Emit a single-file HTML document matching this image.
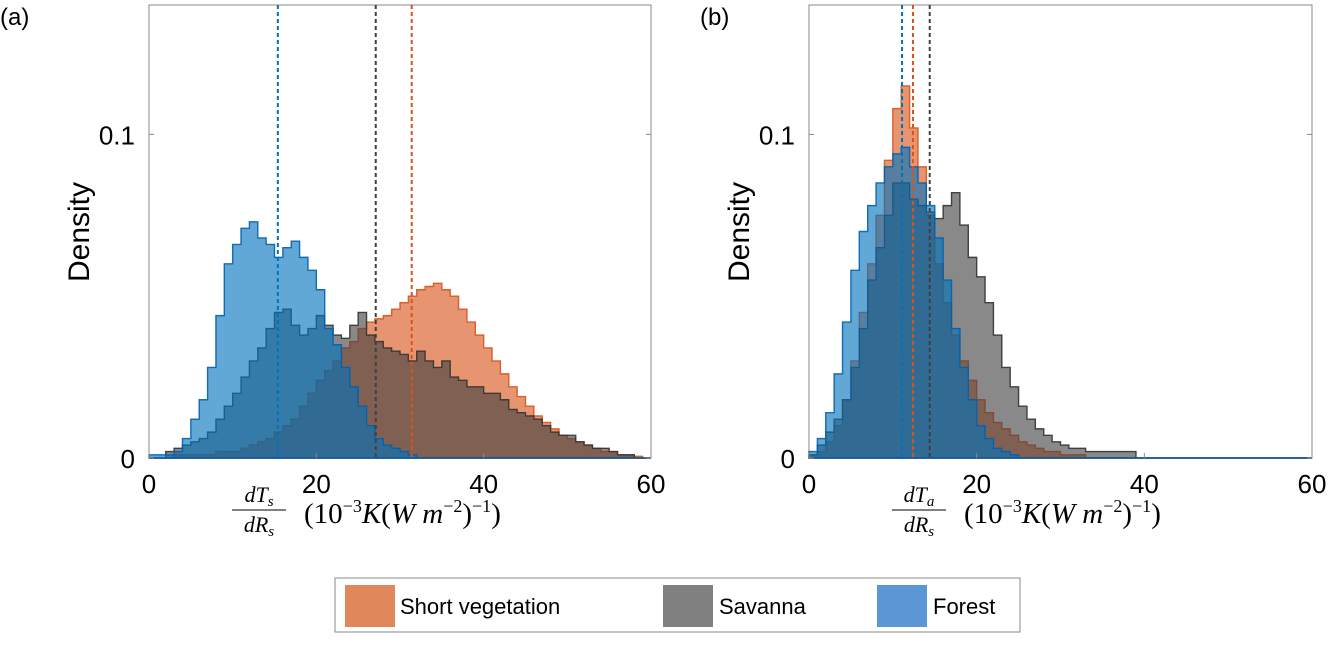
<!DOCTYPE html>
<html><head><meta charset="utf-8"><style>
body{margin:0;background:#fff;width:1331px;height:643px;overflow:hidden;font-family:"Liberation Sans",sans-serif}
</style></head><body>
<svg id="chart" width="1331" height="643" xmlns="http://www.w3.org/2000/svg">
<text x="0" y="25" font-size="24">(a)</text>
<text x="700" y="25" font-size="24">(b)</text>
<g id="pa"></g>
<g id="pb"></g>
<g>
<rect x="335" y="578" width="685" height="54" fill="#fff" stroke="#888"/>
<rect x="345" y="585" width="50" height="42" fill="#E0885C"/>
<text x="400" y="614" font-size="22">Short vegetation</text>
<rect x="663" y="585" width="50" height="42" fill="#808080"/>
<text x="719" y="614" font-size="22">Savanna</text>
<rect x="877" y="585" width="50" height="42" fill="#5B97D4"/>
<text x="933" y="614" font-size="22">Forest</text>
</g>
</svg>
<script>
const xTicks=[0,20,40,60];
const yTickVals=[0,0.1];
const yTickLabels=["0","0.1"];
const aForest=[0.001,0.001,0.001,0.002,0.006,0.012,0.018,0.028,0.044,0.060,0.066,0.071,0.073,0.068,0.066,0.062,0.065,0.067,0.062,0.058,0.052,0.040,0.035,0.028,0.022,0.016,0.010,0.006,0.004,0.003,0.002,0.001,0,0,0,0,0,0,0,0,0,0,0,0,0,0,0,0,0,0,0,0,0,0,0,0,0,0,0,0];
const aSavanna=[0,0,0.002,0.003,0.004,0.005,0.006,0.008,0.012,0.016,0.02,0.025,0.03,0.034,0.04,0.045,0.046,0.041,0.038,0.04,0.044,0.041,0.038,0.037,0.041,0.045,0.038,0.036,0.034,0.033,0.032,0.03,0.033,0.03,0.028,0.03,0.025,0.024,0.022,0.022,0.02,0.02,0.018,0.015,0.014,0.013,0.012,0.01,0.008,0.007,0.007,0.005,0.004,0.003,0.003,0.002,0.001,0.001,0,0];
const aShort=[0,0,0,0.001,0.001,0.001,0.001,0.001,0.002,0.002,0.002,0.003,0.004,0.005,0.006,0.008,0.010,0.012,0.016,0.020,0.024,0.027,0.030,0.034,0.036,0.040,0.042,0.043,0.044,0.046,0.048,0.050,0.052,0.053,0.054,0.052,0.050,0.046,0.042,0.038,0.034,0.030,0.026,0.022,0.019,0.016,0.013,0.011,0.009,0.007,0.006,0.005,0.004,0.003,0.002,0.002,0.001,0.001,0.0005,0];
const bForest=[0.002,0.006,0.014,0.026,0.042,0.058,0.07,0.078,0.085,0.09,0.094,0.096,0.09,0.085,0.078,0.068,0.055,0.04,0.028,0.018,0.01,0.006,0.003,0.002,0.001,0,0,0,0,0,0,0,0,0,0,0,0,0,0,0,0,0,0,0,0,0,0,0,0,0,0,0,0,0,0,0,0,0,0,0];
const bShort=[0.001,0.002,0.005,0.01,0.018,0.03,0.045,0.06,0.075,0.092,0.108,0.115,0.102,0.09,0.075,0.06,0.048,0.038,0.03,0.024,0.018,0.014,0.011,0.009,0.007,0.005,0.004,0.003,0.002,0.002,0.001,0.001,0.001,0,0,0,0,0,0,0,0,0,0,0,0,0,0,0,0,0,0,0,0,0,0,0,0,0,0,0];
const bSavanna=[0.001,0.004,0.008,0.012,0.018,0.028,0.04,0.055,0.065,0.075,0.085,0.085,0.08,0.078,0.076,0.074,0.078,0.082,0.072,0.062,0.056,0.048,0.038,0.028,0.022,0.016,0.012,0.009,0.007,0.005,0.004,0.003,0.003,0.002,0.002,0.002,0.002,0.002,0.002,0,0,0,0,0,0,0,0,0,0,0,0,0,0,0,0,0,0,0,0,0];
const aMeans=[31.4,27.1,15.4];
const bMeans=[12.4,14.4,11.1];
const colors=[["#D95319","#D95319"],["#404040","#333"],["#0072BD","#0060B0"]];
const ns="http://www.w3.org/2000/svg";
function mk(t,a,p){const e=document.createElementNS(ns,t);for(const k in a)e.setAttribute(k,a[k]);p.appendChild(e);return e;}
function panel(g,x0,x1,series,means,names,sub){
  const yb=458,yt=5;
  const sx=v=>x0+(x1-x0)*v/60, sy=v=>yb-(yb-yt)*v/0.14;
  const box=mk('rect',{x:x0,y:yt,width:x1-x0,height:yb-yt,fill:'none',stroke:'#888','stroke-width':1},g);
  
  
  series.forEach((s,si)=>{
    let d='M'+sx(0)+','+sy(0);
    s.forEach((v,i)=>{d+=' L'+sx(i)+','+sy(v)+' L'+sx(i+1)+','+sy(v);});
    d+=' L'+sx(s.length)+','+sy(0)+'Z';
    const p=mk('path',{d:d,fill:colors[si][0],'fill-opacity':0.62,stroke:colors[si][1],'stroke-width':1.4,'stroke-opacity':0.9},g);
    
    
  });
  means.forEach((m,si)=>{
    const l=mk('line',{x1:sx(m),x2:sx(m),y1:yt,y2:yb,stroke:colors[si][0],'stroke-width':2,'stroke-dasharray':'4,3'},g);
    
    
  });
  xTicks.forEach(t=>{
    mk('line',{x1:sx(t),x2:sx(t),y1:yb,y2:yb-5,stroke:'#888'},g);
    const tx=mk('text',{x:sx(t),y:yb+35,'font-size':26,'text-anchor':'middle'},g);
    tx.textContent=t;
    
    
  });
  yTickVals.forEach((t,i)=>{
    mk('line',{x1:x0,x2:x0+5,y1:sy(t),y2:sy(t),stroke:'#888'},g);
    mk('line',{x1:x1,x2:x1-5,y1:sy(t),y2:sy(t),stroke:'#888'},g);
    const tx=mk('text',{x:x0-14,y:sy(t)+10,'font-size':26,'text-anchor':'end'},g);
    tx.textContent=yTickLabels[i];
    
    
  });
  const yl=mk('text',{x:0,y:0,'font-size':30,'text-anchor':'middle',transform:'translate('+(x0-60)+',232) rotate(-90)'},g);
  yl.textContent='Density';
  
  
  const xg=mk('g',{'font-family':'"Liberation Serif",serif','font-style':'italic'},g);
  
  
  const fx=x0+110;
  const n=mk('text',{x:fx,y:502,'font-size':22,'text-anchor':'middle'},xg);
  n.innerHTML='dT<tspan font-size="15" dy="4">'+sub+'</tspan>';
  mk('line',{x1:fx-27,x2:fx+27,y1:510,y2:510,stroke:'#000','stroke-width':1},xg);
  const dn=mk('text',{x:fx,y:532,'font-size':22,'text-anchor':'middle'},xg);
  dn.innerHTML='dR<tspan font-size="15" dy="4">s</tspan>';
  const r=mk('text',{x:fx+45,y:523,'font-size':29,'font-style':'normal'},xg);
  r.innerHTML='(10<tspan font-size="18" dy="-11">−3</tspan><tspan dy="11" font-style="italic">K</tspan>(<tspan font-style="italic">W  m</tspan><tspan font-size="18" dy="-11">−2</tspan><tspan dy="11">)</tspan><tspan font-size="18" dy="-11">−1</tspan><tspan dy="11">)</tspan>';
}
panel(document.getElementById('pa'),149,651,[aShort,aSavanna,aForest],aMeans,['short-vegetation','savanna','forest'],'s');
panel(document.getElementById('pb'),809,1312,[bShort,bSavanna,bForest],bMeans,['short-vegetation','savanna','forest'],'a');
</script>
</body></html>
